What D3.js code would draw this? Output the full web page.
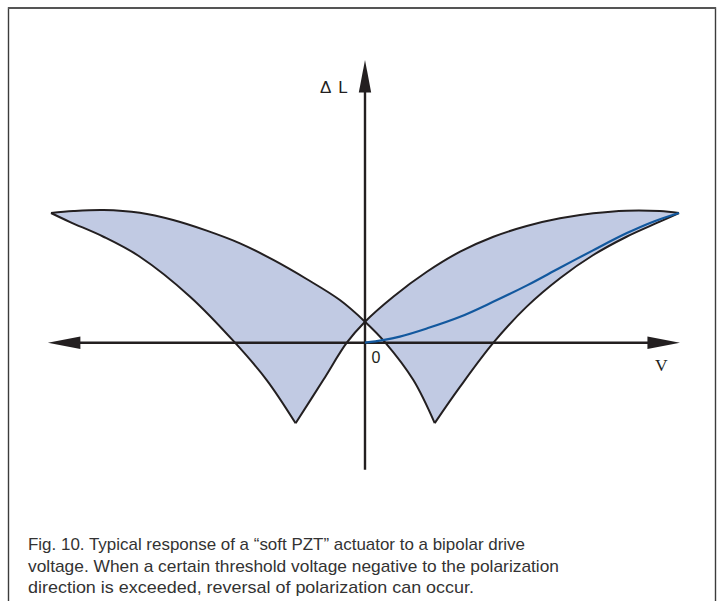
<!DOCTYPE html>
<html>
<head>
<meta charset="utf-8">
<script src="https://cdn.jsdelivr.net/npm/d3@7"></script>
<style>
  html, body { margin: 0; padding: 0; background: #fff; }
  svg { display: block; }
</style>
</head>
<body>
<svg id="chart" width="722" height="601"></svg>
<script>
// Strain–voltage butterfly loop of a soft PZT actuator under bipolar drive.
// V is normalised to the drive amplitude (-1 … +1), ΔL to the strain reached at ±Vmax.

// Rising voltage: from -Vmax down through zero strain to the switching cusp ...
const sweepUpToCusp = [
  [-1.000, 1.000], [-0.929, 1.015], [-0.833, 1.023], [-0.717, 1.002],
  [-0.611, 0.946], [-0.504, 0.864], [-0.398, 0.766], [-0.292, 0.638],
  [-0.186, 0.491], [-0.080, 0.329], [0.000, 0.162], [0.064, 0.003],
  [0.154, -0.288], [0.222, -0.620]
];
// ... then, with polarization reversed, back up to +Vmax
const sweepUpFromCusp = [
  [0.222, -0.620], [0.303, -0.339], [0.409, 0.000], [0.515, 0.278],
  [0.621, 0.497], [0.727, 0.676], [0.833, 0.817], [0.939, 0.933],
  [1.000, 1.000]
];
// Falling voltage: from +Vmax through the crossing to the negative cusp ...
const sweepDownToCusp = [
  [1.000, 1.000], [0.939, 1.015], [0.833, 1.018], [0.727, 0.998],
  [0.621, 0.959], [0.515, 0.900], [0.409, 0.817], [0.303, 0.702],
  [0.197, 0.547], [0.090, 0.355], [0.000, 0.162], [-0.058, 0.000],
  [-0.133, -0.288], [-0.221, -0.621]
];
// ... and back out to -Vmax
const sweepDownFromCusp = [
  [-0.221, -0.621], [-0.313, -0.288], [-0.414, 0.000], [-0.557, 0.355],
  [-0.717, 0.663], [-0.833, 0.817], [-0.939, 0.930], [-1.000, 1.000]
];
// Unipolar drive (voltage in the polarization direction only)
const unipolarCurve = [
  [0.000, 0.000], [0.057, 0.020], [0.111, 0.047], [0.197, 0.110],
  [0.303, 0.200], [0.408, 0.315], [0.516, 0.442], [0.621, 0.578],
  [0.726, 0.712], [0.834, 0.845], [0.920, 0.935], [1.000, 1.000]
];

// Extent of the drawn axes (arrow tips), in data units
const voltageAxisExtent = [-1.010, 1.003];
const strainAxisExtent = [-0.980, 2.180];

const axisLabels = { strain: "Δ L", voltage: "V", origin: "0" };
const captionLines = [
  "Fig. 10. Typical response of a “soft PZT” actuator to a bipolar drive",
  "voltage. When a certain threshold voltage negative to the polarization",
  "direction is exceeded, reversal of polarization can occur."
];
// Set width of each caption line (condensed face)
const captionWidths = [497, 531, 446];

const ink = "#231f20";
const svg = d3.select("#chart");

const x = d3.scaleLinear().domain([-1, 1]).range([51, 679]);
const y = d3.scaleLinear().domain([0, 1]).range([342.7, 213]);

// Frame (open at the bottom)
svg.append("path")
  .attr("d", "M8.5,601 V8 H715.5 V601")
  .attr("fill", "none")
  .attr("stroke", "#3c3c3c")
  .attr("stroke-width", 1.4);
svg.append("line")
  .attr("x1", 8).attr("x2", 716).attr("y1", 8).attr("y2", 8)
  .attr("stroke", "#555").attr("stroke-width", 2.2);

const line = d3.line()
  .x(d => x(d[0]))
  .y(d => y(d[1]))
  .curve(d3.curveCatmullRom.alpha(0.5));

// Shaded loop: the four branches joined into one closed outline
const loopBranches = [sweepUpToCusp, sweepUpFromCusp, sweepDownToCusp, sweepDownFromCusp];
const loopPath = loopBranches
  .map((b, i) => (i === 0 ? line(b) : line(b).replace(/^M/, "L")))
  .join("") + "Z";

svg.append("path")
  .attr("d", loopPath)
  .attr("fill", "#c1cae3")
  .attr("fill-rule", "nonzero")
  .attr("stroke", "none");

// Axes with arrowheads
const axisG = svg.append("g").attr("stroke", ink).attr("stroke-width", 2.4);
const yZero = y(0), xZero = x(0);
const vx0 = x(voltageAxisExtent[0]), vx1 = x(voltageAxisExtent[1]);
const ly0 = y(strainAxisExtent[0]), ly1 = y(strainAxisExtent[1]);

axisG.append("line").attr("x1", vx0 + 20).attr("x2", vx1 - 20).attr("y1", yZero).attr("y2", yZero);
axisG.append("line").attr("x1", xZero).attr("x2", xZero).attr("y1", ly0).attr("y2", ly1 + 20);

const headLen = 32.5, headHalf = 6.2;
const heads = svg.append("g").attr("fill", ink).attr("stroke", "none");
heads.append("path").attr("d",
  `M${vx0},${yZero} L${vx0 + headLen},${yZero - headHalf} L${vx0 + headLen},${yZero + headHalf} Z`);
heads.append("path").attr("d",
  `M${vx1},${yZero} L${vx1 - headLen},${yZero - headHalf} L${vx1 - headLen},${yZero + headHalf} Z`);
heads.append("path").attr("d",
  `M${xZero},${ly1} L${xZero - headHalf},${ly1 + headLen} L${xZero + headHalf},${ly1 + headLen} Z`);

// Loop outline
svg.append("g")
  .selectAll("path")
  .data(loopBranches)
  .join("path")
  .attr("d", line)
  .attr("fill", "none")
  .attr("stroke", ink)
  .attr("stroke-width", 2)
  .attr("stroke-linejoin", "miter");

// Unipolar response
svg.append("path")
  .attr("d", line(unipolarCurve))
  .attr("fill", "none")
  .attr("stroke", "#12589e")
  .attr("stroke-width", 2.2);

// Axis labels
svg.append("text")
  .attr("x", 320).attr("y", 93)
  .attr("font-family", "'Liberation Sans', Arial, sans-serif")
  .attr("font-size", 17)
  .attr("word-spacing", 3)
  .attr("fill", ink)
  .text(axisLabels.strain);

svg.append("text")
  .attr("x", 655).attr("y", 371)
  .attr("font-family", "'Liberation Serif', 'Times New Roman', serif")
  .attr("font-size", 17.5)
  .attr("fill", ink)
  .text(axisLabels.voltage);

svg.append("text")
  .attr("x", 371.5).attr("y", 363.3)
  .attr("font-family", "'Liberation Sans', Arial, sans-serif")
  .attr("font-size", 16)
  .attr("fill", ink)
  .text(axisLabels.origin);

// Caption
svg.append("g")
  .attr("font-family", "'Liberation Sans', Arial, sans-serif")
  .attr("font-size", 17)
  .attr("fill", "#333")
  .selectAll("text")
  .data(captionLines)
  .join("text")
  .attr("x", 28)
  .attr("y", (d, i) => 550 + i * 21.5)
  .attr("textLength", (d, i) => captionWidths[i])
  .attr("lengthAdjust", "spacingAndGlyphs")
  .text(d => d);
</script>
</body>
</html>
